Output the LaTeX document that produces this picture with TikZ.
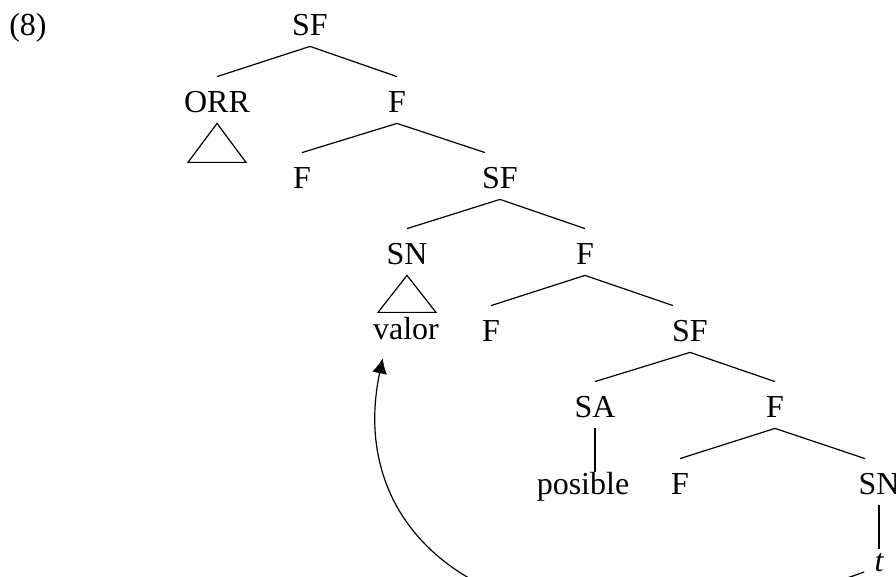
\documentclass[tikz,border=0pt]{standalone}
\usepackage{fontspec}
\setmainfont{Liberation Serif}
\usetikzlibrary{arrows.meta,calc}

\begin{document}
\begin{tikzpicture}[
  x=0.5pt, y=-0.5pt,
  cat/.style={anchor=base, inner sep=0pt, text height=18pt, text depth=5pt,
              font=\fontsize{16}{19}\selectfont},
  word/.style={anchor=base, inner sep=0pt, text height=11.5pt, text depth=4pt,
               font=\fontsize{16}{19}\selectfont},
  branch/.style={line width=0.6pt},
  roof/.style={line width=0.6pt},
  move/.style={line width=0.6pt, -{Latex[length=7.5pt,width=7.5pt]}}
]
  \useasboundingbox (0,0) rectangle (896,577);
  \clip (0,0) rectangle (896,577);

  \node[word] (ex) at (28,36) {(8)};

  % categories, one row per level
  \node[cat] (SF0)  at (310,36)  {SF};
  \node[cat] (ORR)  at (217,113) {ORR};
  \node[cat] (F1)   at (397,113) {F};
  \node[cat] (F2)   at (302,189) {F};
  \node[cat] (SF2)  at (500,189) {SF};
  \node[cat] (SN3)  at (407,265) {SN};
  \node[cat] (F3)   at (585,265) {F};
  \node[cat] (F4)   at (491,342) {F};
  \node[cat] (SF4)  at (690,342) {SF};
  \node[cat] (SA)   at (595,418) {SA};
  \node[cat] (F5)   at (775,418) {F};
  \node[cat] (F6)   at (680,495) {F};
  \node[cat] (SN6)  at (879,495) {SN};

  % terminals
  \node[word] (valor)   at (406,340) {valor};
  \node[word] (posible) at (583,495) {posible};
  \node[word] (t)       at (879,572) {\itshape t};

  % branches
  \draw[branch] (SF0.south) -- (ORR.north);
  \draw[branch] (SF0.south) -- (F1.north);
  \draw[branch] (F1.south)  -- (F2.north);
  \draw[branch] (F1.south)  -- ($(SF2.north)+(-15,0)$);
  \draw[branch] (SF2.south) -- (SN3.north);
  \draw[branch] (SF2.south) -- (F3.north);
  \draw[branch] (F3.south)  -- (F4.north);
  \draw[branch] (F3.south)  -- ($(SF4.north)+(-17,0)$);
  \draw[branch] (SF4.south) -- (SA.north);
  \draw[branch] (SF4.south) -- (F5.north);
  \draw[branch] (F5.south)  -- (F6.north);
  \draw[branch] (F5.south)  -- ($(SN6.north)+(-14,0)$);
  \draw[branch] (SA.south)  -- (SA.south |- posible.north);
  \draw[branch] (SN6.south) -- (t.north);

  % roofs
  \draw[roof] (ORR.south) -- ++(-29,39) -- ++(58,0) -- cycle;
  \draw[roof] (SN3.south) -- ++(-29,37) -- ++(58,0) -- cycle;

  % movement of the trace
  \draw[move] ($(t.base west)+(-10,0)$)
    .. controls (540,690) and (340,560) .. ($(valor.south west)+(10,10)$);
\end{tikzpicture}
\end{document}
